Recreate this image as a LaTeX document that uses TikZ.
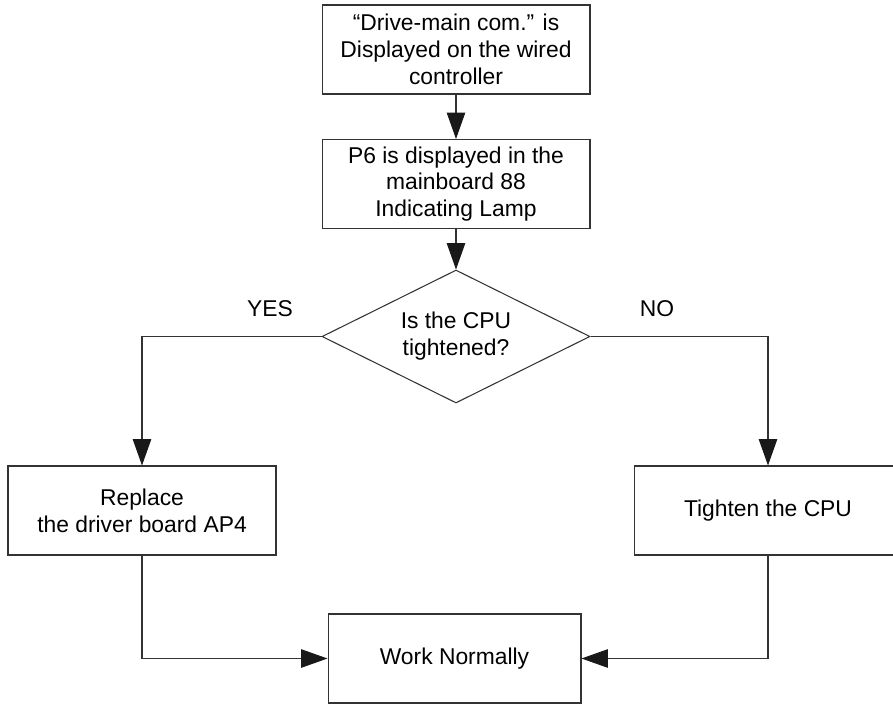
\documentclass[tikz,border=0pt]{standalone}
\usepackage{fontspec}
\setmainfont{Liberation Sans}
\usetikzlibrary{arrows.meta,shapes.geometric}

\begin{document}
\begin{tikzpicture}[x=.02cm,y=-.02cm,
  font=\fontsize{13}{15.3}\selectfont,
  box/.style={draw=black!80,line width=.6pt,align=center,inner sep=0pt,minimum width=5.36cm,minimum height=1.78cm},
  link/.style={draw=black!80,line width=.6pt},
  tip/.style={-{Triangle[length=15pt,width=10.5pt,color=black!90]}}]
\useasboundingbox (0,0) rectangle (893,704);
\node[box] (disp) at (456,49.5) {“Drive-main com.” is\\Displayed on the wired\\controller};
\node[box] (lamp) at (456,184) {P6 is displayed in the\\mainboard 88\\Indicating Lamp};
\node[draw=black!80,line width=.6pt,diamond,aspect=2.015,align=center,inner sep=0pt,minimum width=5.36cm,minimum height=2.66cm] (cpu) at (456,336.5) {Is the CPU\\tightened?};
\node (yes) at (270,309) {YES};
\node (no) at (657,309) {NO};
\node[box] (repl) at (142,510.5) {Replace\\the driver board AP4};
\node[box] (tight) at (768,510.5) {Tighten the CPU};
\node[box,minimum width=5.06cm] (work) at (454.5,658.5) {Work Normally};
\draw[link,tip] (disp) -- (lamp);
\draw[link,tip] (lamp) -- (cpu);
\draw[link,tip] (cpu.west) -| (repl.north);
\draw[link,tip] (cpu.east) -| (tight.north);
\draw[link,tip] (repl.south) |- (work.west);
\draw[link,tip] (tight.south) |- (work.east);
\end{tikzpicture}
\end{document}
